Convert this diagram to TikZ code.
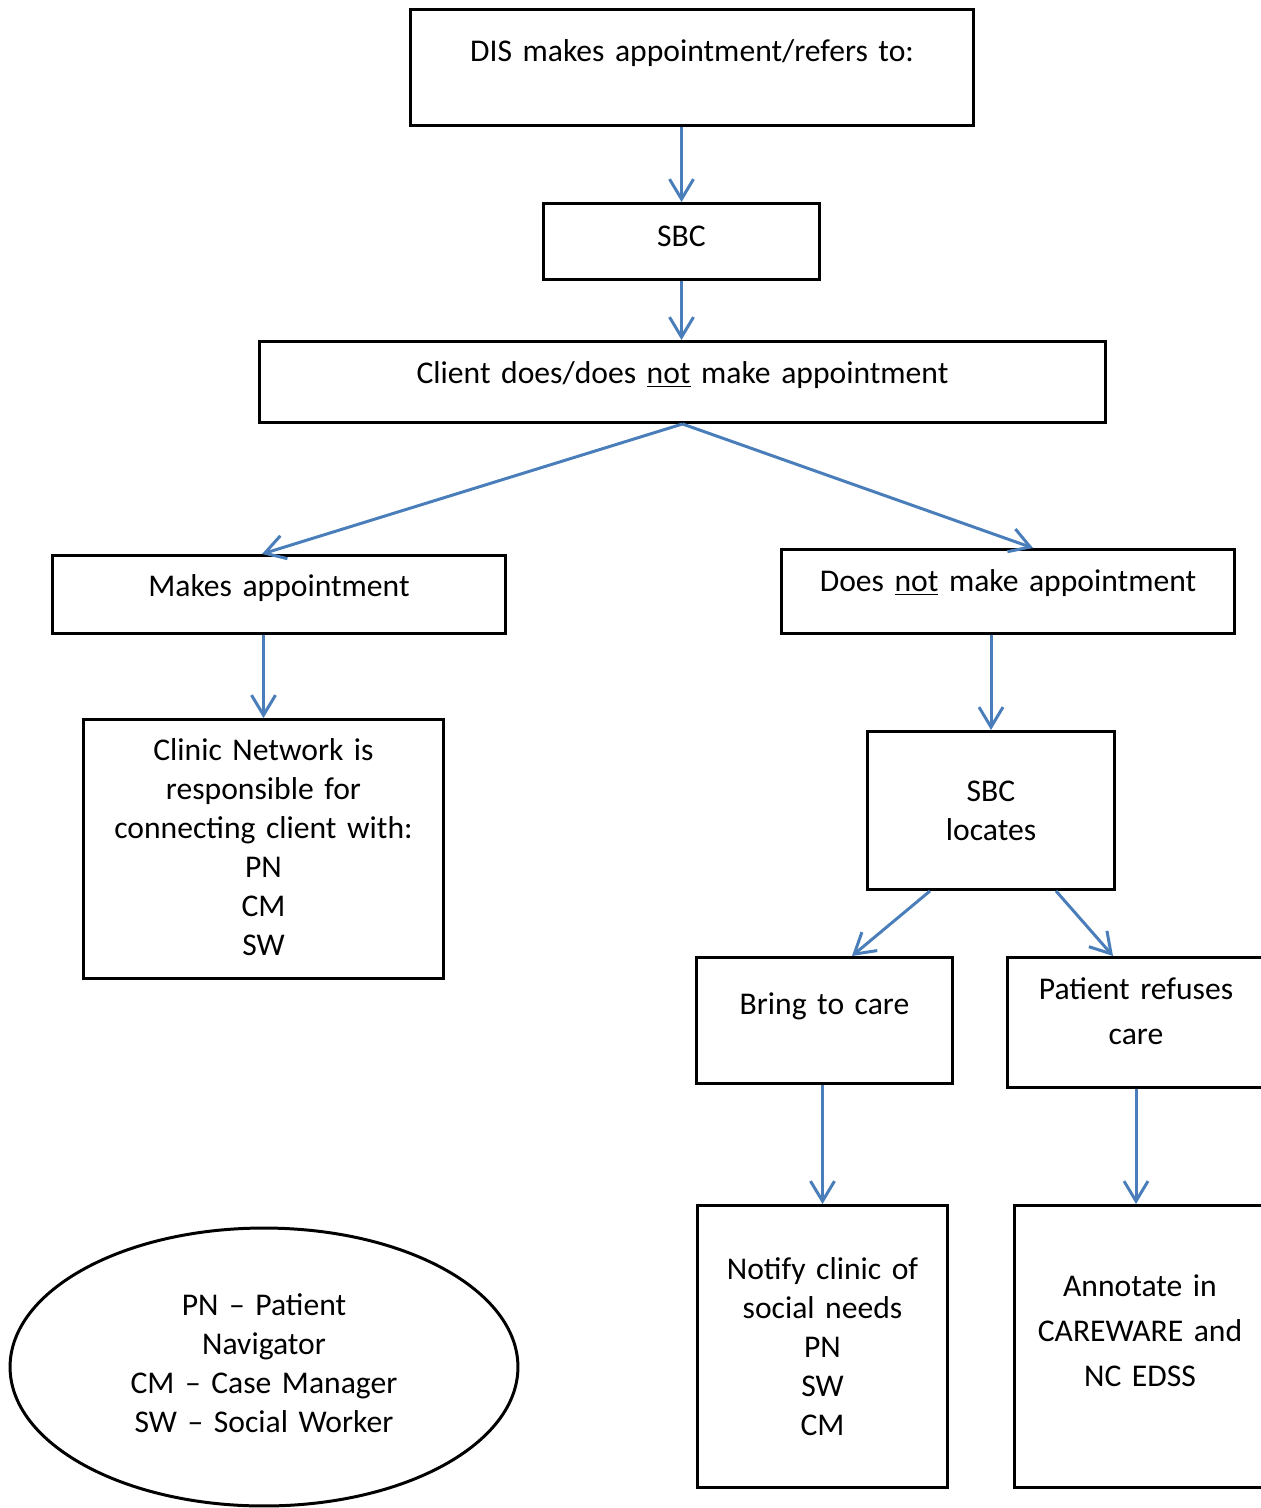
\documentclass[tikz,border=0pt]{standalone}
\usepackage{fontspec}
\setmainfont{Carlito}
\usepackage{tikz}
\usetikzlibrary{shapes.geometric, arrows.meta}
\definecolor{flowblue}{RGB}{74,126,187}

\begin{document}
\begin{tikzpicture}[
    x=0.02cm, y=-0.02cm,
    box/.style={rectangle, draw, line width=1.7pt, inner sep=0pt, anchor=north, align=center, font={\fontsize{18}{22.2}\selectfont}},
    wide/.style={font={\fontsize{18}{25.6}\selectfont}},
    legend/.style={ellipse, draw, line width=1.7pt, inner sep=0pt, align=center, font={\fontsize{18}{22.2}\selectfont}},
    arrow/.style={-{Straight Barb[length=0.4cm, width=0.48cm]}, line width=1.7pt, flowblue}
]
    \useasboundingbox (0,0) rectangle (1261,1508);
    \clip (0,0) rectangle (1261,1508);

    % Nodes
    \node[box, text width=11.28cm, text height=1.04cm, text depth=1.28cm] (dis) at (692,8) {DIS makes appointment/refers to:};
    \node[box, text width=5.54cm, text height=0.86cm, text depth=0.66cm] (sbc) at (681.5,202) {SBC};
    \node[box, text width=16.94cm, text height=0.84cm, text depth=0.78cm] (client) at (682.5,340) {Client does/does \underline{not} make appointment};
    \node[box, text width=9.08cm, text height=0.82cm, text depth=0.74cm] (makes) at (279,554) {Makes appointment};
    \node[box, text width=9.08cm, text height=0.84cm, text depth=0.84cm] (notmake) at (1008,548) {Does \underline{not} make appointment};
    \node[box, text width=7.22cm, text height=0.82cm, text depth=4.36cm] (clinic) at (263.5,718) {Clinic Network is\\responsible for\\connecting client with:\\PN\\CM\\SW};
    \node[box, text width=4.96cm, text height=1.4cm, text depth=1.76cm] (locates) at (991,730) {SBC\\locates};
    \node[box, text width=5.14cm, text height=1.14cm, text depth=1.38cm] (bring) at (824.5,956) {Bring to care};
    \node[box, wide, text width=5.16cm, text height=0.84cm, text depth=1.76cm] (refuses) at (1136,956) {Patient refuses\\care};
    \node[box, text width=5.02cm, text height=1.48cm, text depth=4.16cm] (notify) at (822.5,1204) {Notify clinic of\\social needs\\PN\\SW\\CM};
    \node[box, wide, text width=5.04cm, text height=1.82cm, text depth=3.82cm] (annotate) at (1140,1204) {Annotate in\\CAREWARE and\\NC EDSS};
    \node[legend, minimum width=10.16cm, minimum height=5.56cm, text width=5.4cm, text height=0.4cm, text depth=2.48cm] (key) at (264,1367) {PN -- Patient\\Navigator\\CM -- Case Manager\\SW -- Social Worker};

    % Arrows
    \draw[arrow] (sbc.north |- dis.south) -- (sbc.north);
    \draw[arrow] (sbc.south) -- (sbc.south |- client.north);
    \draw[arrow] (client.south) -- ([xshift=-0.34cm]makes.north);
    \draw[arrow] (client.south) -- ([xshift=0.5cm]notmake.north);
    \draw[arrow] (clinic.north |- makes.south) -- (clinic.north);
    \draw[arrow] (locates.north |- notmake.south) -- (locates.north);
    \draw[arrow] ([xshift=-1.22cm]locates.south) -- ([xshift=0.55cm]bring.north);
    \draw[arrow] ([xshift=1.3cm]locates.south) -- ([xshift=-0.46cm]refuses.north);
    \draw[arrow] (notify.north |- bring.south) -- (notify.north);
    \draw[arrow] (refuses.south) -- (refuses.south |- annotate.north);

\end{tikzpicture}
\end{document}
